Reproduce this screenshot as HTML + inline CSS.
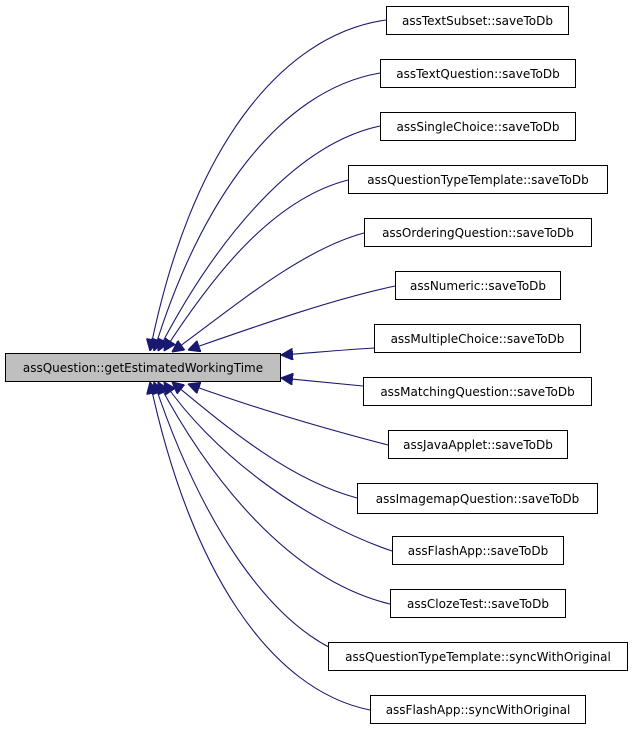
<!DOCTYPE html>
<html><head><meta charset="utf-8"><style>
html,body{margin:0;padding:0;background:#fff;}
svg{display:block;}
text{font-family:"DejaVu Sans","Liberation Sans",sans-serif;font-size:12px;fill:#000;}
</style></head><body>
<svg width="632" height="733" viewBox="0 0 632 733" xmlns="http://www.w3.org/2000/svg">
<defs>
<marker id="a" viewBox="0 0 10 10" refX="10" refY="5" markerWidth="12" markerHeight="12" markerUnits="userSpaceOnUse" orient="auto">
<path d="M0,0 L10,5 L0,10 z" fill="#191970" stroke="#191970"/>
</marker>
</defs>
<g fill="none" stroke="#191970" stroke-width="1.1">
<path d="M386,20 C280,35 190,150 150,351" marker-end="url(#a)"/>
<path d="M380,73 C280,90 200,200 154,351" marker-end="url(#a)"/>
<path d="M380,126 C290,145 210,250 158,351" marker-end="url(#a)"/>
<path d="M348,180 C270,200 210,280 164,351" marker-end="url(#a)"/>
<path d="M364,233 C300,250 230,310 172,352" marker-end="url(#a)"/>
<path d="M395,286 C330,300 260,325 188,350" marker-end="url(#a)"/>
<path d="M374,348 C340,350 310,353 281,355" marker-end="url(#a)"/>
<path d="M363,386 C340,384 310,381 281,378" marker-end="url(#a)"/>
<path d="M388,445 C330,430 260,410 188,384" marker-end="url(#a)"/>
<path d="M357,498 C290,480 230,430 172,382" marker-end="url(#a)"/>
<path d="M392,551 C300,520 210,450 164,382" marker-end="url(#a)"/>
<path d="M390,604 C290,580 210,480 158,382" marker-end="url(#a)"/>
<path d="M352,657 C270,630 200,520 154,382" marker-end="url(#a)"/>
<path d="M370,710 C270,690 190,570 150,382" marker-end="url(#a)"/>
</g>
<g stroke="#000" stroke-width="1">
<rect x="5.5" y="353.5" width="275" height="28" fill="#bfbfbf"/>
<rect x="386.5" y="6.5" width="182" height="28" fill="#fff"/>
<rect x="380.5" y="59.5" width="195" height="28" fill="#fff"/>
<rect x="380.5" y="112.5" width="195" height="28" fill="#fff"/>
<rect x="348.5" y="165.5" width="259" height="28" fill="#fff"/>
<rect x="364.5" y="218.5" width="227" height="28" fill="#fff"/>
<rect x="395.5" y="271.5" width="165" height="28" fill="#fff"/>
<rect x="374.5" y="324.5" width="206" height="28" fill="#fff"/>
<rect x="363.5" y="377.5" width="228" height="28" fill="#fff"/>
<rect x="388.5" y="430.5" width="179" height="28" fill="#fff"/>
<rect x="357.5" y="483.5" width="240" height="30" fill="#fff"/>
<rect x="392.5" y="536.5" width="171" height="28" fill="#fff"/>
<rect x="390.5" y="589.5" width="175" height="28" fill="#fff"/>
<rect x="328.5" y="642.5" width="299" height="28" fill="#fff"/>
<rect x="370.5" y="695.5" width="215" height="28" fill="#fff"/>
</g>
<g text-anchor="middle">
<text x="143" y="372">assQuestion::getEstimatedWorkingTime</text>
<text x="477.5" y="25">assTextSubset::saveToDb</text>
<text x="478" y="78">assTextQuestion::saveToDb</text>
<text x="478" y="131">assSingleChoice::saveToDb</text>
<text x="478" y="184">assQuestionTypeTemplate::saveToDb</text>
<text x="478" y="237">assOrderingQuestion::saveToDb</text>
<text x="478" y="290">assNumeric::saveToDb</text>
<text x="477.5" y="343">assMultipleChoice::saveToDb</text>
<text x="477.5" y="396">assMatchingQuestion::saveToDb</text>
<text x="478" y="449">assJavaApplet::saveToDb</text>
<text x="477.5" y="503">assImagemapQuestion::saveToDb</text>
<text x="478" y="555">assFlashApp::saveToDb</text>
<text x="478" y="608">assClozeTest::saveToDb</text>
<text x="478" y="661">assQuestionTypeTemplate::syncWithOriginal</text>
<text x="478" y="714">assFlashApp::syncWithOriginal</text>
</g>
</svg>
</body></html>
